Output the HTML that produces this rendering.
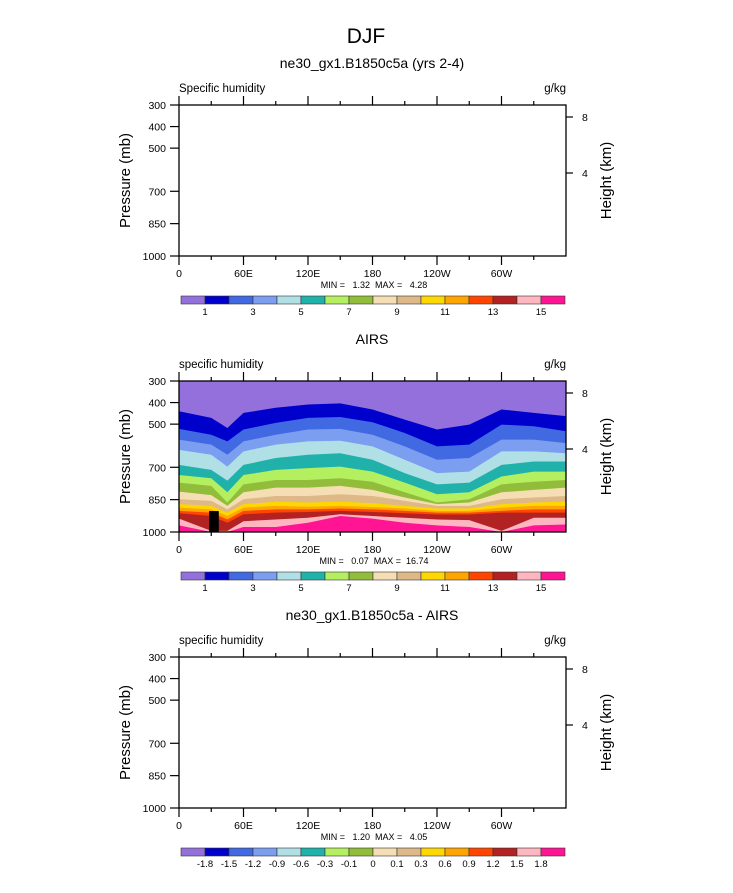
<!DOCTYPE html>
<html><head><meta charset="utf-8"><style>
body{margin:0;background:#fff;font-family:"Liberation Sans",sans-serif;}
svg text{font-family:"Liberation Sans",sans-serif;fill:#000;}
</style></head><body>
<svg id="c" width="733" height="888" xmlns="http://www.w3.org/2000/svg">
<text x="366" y="43" font-size="21" text-anchor="middle">DJF</text>
</svg>
<script>
const NS="http://www.w3.org/2000/svg";
const svg=document.getElementById('c');
// ---- data ----
const lons=[0,30,45,60,90,120,150,180,210,240,270,300,330,360];
const levels=[1,2,3,4,5,6,7,8,9,10,11,12,13,14,15];
const b1=[440,471,518,448,424,409,404,432,479,525,502,432,448,463];
const b2=[522,549,580,525,494,471,467,491,541,603,595,502,510,533];
const b3=[572,595,642,580,549,525,522,549,603,665,657,572,572,588];
const b4=[619,642,697,626,595,580,577,603,665,727,720,626,626,635];
const b5=[689,712,762,689,657,642,635,665,727,779,771,689,673,673];
const b6=[736,751,816,736,712,704,697,720,771,825,816,743,720,720];
const b7=[771,786,863,779,759,759,751,767,816,863,848,779,767,759];
const b8=[813,829,879,816,794,794,786,805,840,871,863,816,805,794];
const b9=[848,856,895,848,833,833,825,833,856,879,879,848,840,833];
const b10=[871,879,910,871,860,863,860,866,879,891,891,871,863,860];
const b11=[887,895,926,887,879,883,879,884,891,902,902,887,879,879];
const b12=[902,910,942,902,895,895,891,895,902,910,910,902,895,895];
const b13=[913,926,957,918,910,907,902,907,913,919,919,910,910,910];
const b14=[938,995,995,950,942,934,918,926,934,942,945,995,934,934];
const b15=[969,1000,1000,977,977,957,926,938,957,969,977,1000,969,965];
const bounds=[b1,b2,b3,b4,b5,b6,b7,b8,b9,b10,b11,b12,b13,b14,b15];
const colors=["#9370db","#0000cd","#4169e1","#7b9ef0","#b0e0e6","#20b2aa","#b4ef60","#92bd3a","#f5deb3","#deb887","#ffd700","#ffa500","#ff4500","#b22222","#ffb6c1","#ff1493"];
const xTicks=[0,60,120,180,240,300];
const xLabels=["0","60E","120E","180","120W","60W"];
const pTicks=[300,400,500,700,850,1000];
const hTicks=[8,4];
const cbLabels1=["1","3","5","7","9","11","13","15"];
const cbLabels3=["-1.8","-1.5","-1.2","-0.9","-0.6","-0.3","-0.1","0","0.1","0.3","0.6","0.9","1.2","1.5","1.8"];
const mask=[28,37,903]; // missing-data block lon0, lon1, top pressure

function el(tag,attrs,parent){const e=document.createElementNS(NS,tag);for(const k in attrs)e.setAttribute(k,attrs[k]);(parent||svg).appendChild(e);return e;}
function txt(x,y,s,size,anchor,parent,extra){const t=el('text',Object.assign({x:x,y:y,'font-size':size,'text-anchor':anchor||'start'},extra||{}),parent);t.textContent=s;return t;}

const X0=179,X1=566;
function panel(top,title,left,stats,filled,cbLabs,cbEvery,name){
  const H=151,bot=top+H;
  const g=el('g',{});
  
  
  const xs=l=>X0+(X1-X0)*l/360;
  const ys=p=>top+H*(p-300)/700;
  const t1=txt(372,top-37,title,14,'middle',g);
  
  const t2=txt(X0,top-13,left,11.5,'start',g);
  
  const t3=txt(X1,top-13,'g/kg',11.5,'end',g);
  
  if(filled){
    const bg=el('rect',{x:X0,y:top,width:X1-X0,height:H,fill:colors[0]},g);
    
    bounds.forEach((b,k)=>{
      let d='M'+xs(lons[0])+','+ys(1000);
      lons.forEach((l,i)=>{d+=' L'+xs(l)+','+ys(b[i]);});
      d+=' L'+xs(360)+','+ys(1000)+' Z';
      const p=el('path',{d:d,fill:colors[k+1]},g);
      
      
    });
    const m=el('rect',{x:xs(mask[0]),y:ys(mask[2]),width:xs(mask[1])-xs(mask[0]),height:ys(1000)-ys(mask[2]),fill:'#000'},g);
    
  }
  const fr=el('rect',{x:X0,y:top,width:X1-X0,height:H,fill:'none',stroke:'#000','stroke-width':1.3},g);
  
  for(let l=0;l<360;l+=30){
    const maj=l%60===0,len=maj?9:4;
    el('line',{x1:xs(l),x2:xs(l),y1:top,y2:top-len,stroke:'#000','stroke-width':1.2},g);
    el('line',{x1:xs(l),x2:xs(l),y1:bot,y2:bot+len,stroke:'#000','stroke-width':1.2},g);
  }
  xTicks.forEach((l,i)=>{const t=txt(xs(l),bot+21,xLabels[i],10.5,'middle',g);
    });
  pTicks.forEach(p=>{el('line',{x1:X0,x2:X0-9,y1:ys(p),y2:ys(p),stroke:'#000','stroke-width':1.2},g);
    const t=txt(X0-13,ys(p)+4,String(p),10.5,'end',g);
    });
  hTicks.forEach(h=>{const y=top+12+(8-h)*14;
    el('line',{x1:X1,x2:X1+7,y1:y,y2:y,stroke:'#000','stroke-width':1.2},g);
    const t=txt(X1+16,y+4,String(h),10.5,'start',g);
    });
  const yt=txt(0,0,'Pressure (mb)',15,'middle',g,{transform:'translate(130,'+(top+H/2)+') rotate(-90)'});
  
  const yt2=txt(0,0,'Height (km)',15,'middle',g,{transform:'translate(611,'+(top+H/2)+') rotate(-90)'});
  
  const st=txt(374,bot+32,stats,9,'middle',g,{style:'white-space:pre'});
  
  // colorbar
  const cx0=181,cx1=565,cy=bot+40,bw=(cx1-cx0)/16;
  colors.forEach((c,i)=>{const r=el('rect',{x:cx0+i*bw,y:cy,width:bw,height:8,fill:c,stroke:'#333','stroke-width':0.6},g);
    });
  cbLabs.forEach((s,i)=>{const t=txt(cx0+bw*(1+i*cbEvery),cy+19,s,9.5,'middle',g);
    });
}
panel(105,'ne30_gx1.B1850c5a (yrs 2-4)','Specific humidity','MIN =   1.32  MAX =   4.28',false,cbLabels1,2,'model-panel');
panel(381,'AIRS','specific humidity','MIN =   0.07  MAX =  16.74',true,cbLabels1,2,'obs-panel');
panel(657,'ne30_gx1.B1850c5a - AIRS','specific humidity','MIN =   1.20  MAX =   4.05',false,cbLabels3,1,'difference-panel');
</script>
</body></html>
